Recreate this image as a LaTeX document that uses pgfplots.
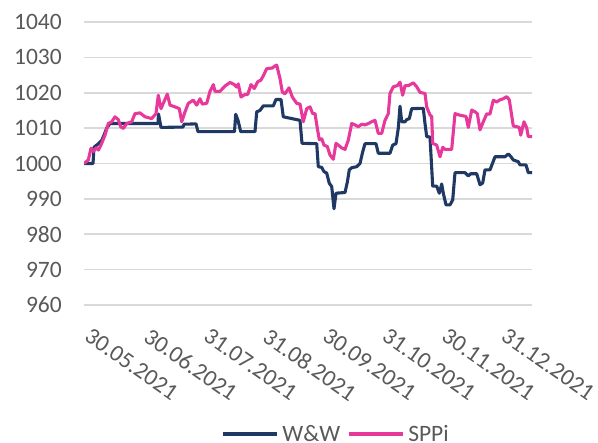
\documentclass[border=0pt]{standalone}
\usepackage{pgfplots}
\pgfplotsset{compat=1.18}
\usepackage{fontspec}
\setmainfont{Carlito}
\definecolor{ww}{HTML}{1F3864}
\definecolor{sppi}{HTML}{E6399B}
\definecolor{gridc}{HTML}{D9D9D9}
\definecolor{txt}{HTML}{595959}
\begin{document}
\begin{tikzpicture}
\begin{axis}[
  at={(84pt,138pt)}, anchor=south west,
  scale only axis, width=448pt, height=283pt,
  xmin=84, xmax=532, ymin=960, ymax=1040,
  ytick={960,970,980,990,1000,1010,1020,1030,1040},
  xtick={84,143.5,203,262.5,322,381.5,441,500.5},
  xticklabels={30.05.2021,30.06.2021,31.07.2021,31.08.2021,30.09.2021,31.10.2021,30.11.2021,31.12.2021},
  axis line style={draw=none},
  major tick style={draw=none},
  ymajorgrids, grid style={gridc, line width=1.6pt},
  tick label style={font=\fontsize{23.5}{28}\selectfont, color=txt},
  /pgf/number format/assume math mode=true,
  /pgf/number format/1000 sep={},
  yticklabel style={inner sep=0pt, xshift=-22pt},
  xticklabel style={inner sep=0pt, xshift=8pt, yshift=-22pt, rotate=-35, anchor=north west},
  legend columns=2,
  legend style={at={(0.5625,-0.456)}, anchor=center, draw=none, fill=none,
    font=\fontsize{23.5}{28}\selectfont, text=txt, inner sep=1pt,
    /tikz/every odd column/.append style={column sep=2pt},
    /tikz/every even column/.append style={column sep=5pt}},
  legend image code/.code={\draw[#1] (0pt,0pt) -- (54pt,0pt);},
]
\addplot[ww, line width=3.1pt, line join=round] coordinates {
(84,1000) (93,1000) (94,1004.6) (98,1005.5) (101.7,1006.5) (104,1008) (106.7,1010) (110,1011.3)
(158,1011.3) (158.5,1014) (161,1010.2) (183,1010.3) (184,1011.1) (196,1011.2) (198,1009)
(234.5,1009) (235.7,1013.9) (238,1012.2) (240.7,1009) (255,1009) (256.7,1014.6) (260,1015)
(263.3,1016.3) (273.3,1016.3) (276,1018.1) (281,1018.1) (283.3,1013.2) (291.7,1012.7) (300,1012.2)
(302,1005.7) (316.7,1005.6) (318.3,999.1) (321.7,998.9) (324,997.7) (326.7,997.3) (329.3,994.4)
(331.7,993.5) (334,987.2) (336,991.6) (345,991.8) (347.3,994.7) (349.3,998.2) (351.7,998.8)
(356.7,999.1) (360,1000) (362.7,1003.3) (365,1005.6) (376,1005.6) (378.3,1002.9) (390,1002.9)
(392.7,1005.2) (396,1005.6) (398.3,1010) (400,1016.2) (401.7,1011.8) (405,1011.8) (406.7,1012.4)
(409.3,1012.7) (411.7,1015.5) (423.3,1015.6) (425,1011.3) (426.7,1007.6) (430,1007.5) (432.7,993.6)
(436.7,993.6) (439.3,991.6) (441.7,994.2) (443.3,991.6) (446,988.3) (450,988.3) (452.7,989.7)
(455,997.4) (465,997.4) (468.3,996.5) (470.7,997.1) (476.7,997.1) (480,994) (482.7,994.5)
(485,998.2) (490,998.2) (495,1001.9) (505,1001.9) (508.3,1002.7) (510.7,1002) (513.3,1001)
(518.3,1000.5) (520,999.6) (526,999.6) (528.3,997.4) (532,997.4)
};
\addlegendentry{W\&W}
\addplot[sppi, line width=3.1pt, line join=round] coordinates {
(84,1000) (88.3,1001) (91,1004.3) (93.3,1003.4) (96,1004.4) (98.5,1003.8) (101.7,1005.7) (105,1008)
(108.3,1011.3) (111.7,1011.8) (115,1013.2) (118.3,1012.4) (120.7,1010.4) (123.3,1009.9) (126.7,1011.3)
(131.7,1011.8) (135,1014.1) (140,1014.3) (145,1013.2) (151.7,1012.7) (156,1014.1) (158.3,1019.3)
(161,1015.5) (163.3,1017) (167.3,1019.6) (170,1016.5) (175,1016) (179.3,1015.5) (181.7,1011.8)
(185,1014.6) (188.3,1017) (193.3,1017.9) (196.7,1016.5) (200,1018.3) (202.3,1016.8) (206.7,1017)
(210,1020.4) (213.3,1022.3) (215,1020.4) (220,1020.4) (225,1021.9) (230,1022.9) (234.3,1022.3)
(236.7,1021.6) (238.3,1022.5) (241,1018.8) (245,1019.5) (247.7,1019.5) (251,1022.3) (254.3,1021.2)
(257.7,1023.1) (261,1023.6) (263.3,1024.8) (266.7,1026.8) (272.3,1027) (275,1027.6) (276.7,1027.8)
(280,1024) (282.3,1020.2) (285,1019.7) (289,1021.4) (292.3,1018.8) (296.7,1017) (300,1016.8)
(303.3,1011.8) (306.7,1015.5) (310,1016) (312.7,1014.1) (315,1014.1) (317.3,1010) (319.3,1006.7)
(321.7,1007) (324,1005.2) (327.3,1004.8) (330,1002.4) (333.3,1001.2) (336,1005.7) (338.3,1005.2)
(341.7,1004.4) (345,1004) (348.3,1006.6) (351.7,1011.3) (355,1010.9) (358.3,1010.4) (361.7,1011.1)
(365,1010.9) (368.3,1011.3) (371.7,1011.8) (375,1012.2) (378.3,1008.5) (381.7,1008.5) (385,1012.2)
(388.3,1014.1) (390,1019.8) (393.3,1021.7) (397.3,1022) (400,1023) (402.7,1019.3) (405,1022)
(408.3,1022) (413.3,1022.8) (416.7,1021.7) (420,1020.1) (425,1019.8) (426.7,1016) (430,1013.7)
(431.7,1013.3) (432.7,1005.7) (436.7,1005.2) (440,1001.9) (442.7,1004.6) (445,1004) (451.7,1004)
(455,1014.1) (459.3,1013.7) (466,1013.3) (468.3,1010.2) (471.7,1015.1) (475,1014.6) (477.3,1014.1)
(480,1009.5) (483.3,1011.8) (486.7,1014) (490,1014) (493.3,1017.9) (496.7,1017.4) (500,1018)
(503.3,1018.3) (506.7,1018.9) (509.3,1018) (513.3,1010.6) (516.7,1010.4) (519.3,1010.2) (520.7,1008)
(524,1011.8) (526.7,1010.1) (528.3,1007.6) (532,1007.6)
};
\addlegendentry{SPPi}
\end{axis}
\pgfresetboundingbox
\path (0pt,0pt) rectangle (598pt,443pt);
\end{tikzpicture}
\end{document}
